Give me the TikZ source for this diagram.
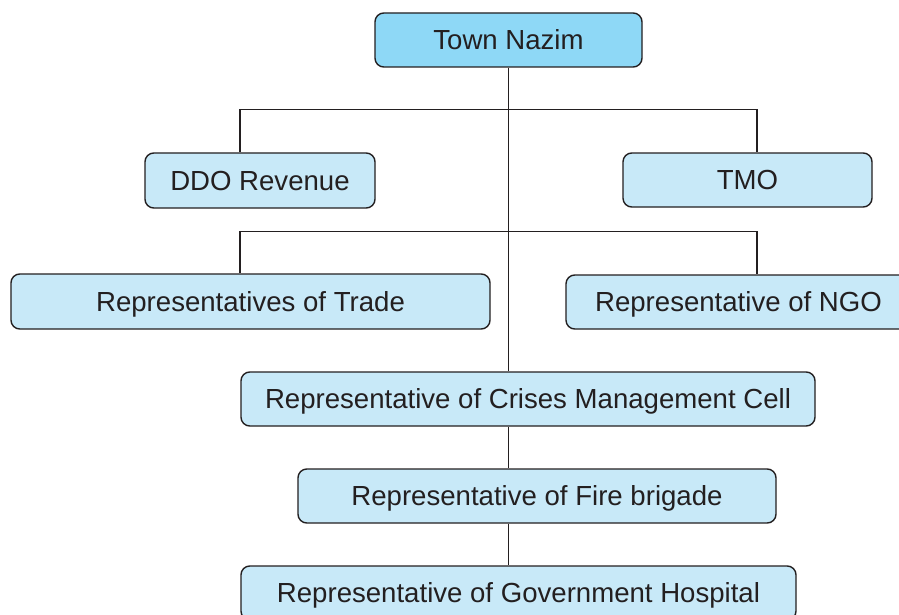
\documentclass[tikz,border=0pt]{standalone}
\usepackage{fontspec}
\setmainfont{Liberation Sans}
\definecolor{topblue}{HTML}{8ED8F6}
\definecolor{boxblue}{HTML}{C8E9F8}
\definecolor{inkgray}{HTML}{231F20}
\tikzset{   topbox/.style = {rectangle, rounded corners=5pt, draw = inkgray, line width=0.8pt, fill = topblue, text = inkgray, font=\fontsize{15.7}{19}\selectfont, inner sep=0pt, text height=11.3pt, text depth=0pt, minimum height=1.08cm},
            unitbox/.style = {topbox, fill = boxblue}}

\begin{document}
\begin{tikzpicture}
                        \useasboundingbox (0,0) rectangle (17.98,-12.3);
                        \begin{scope}[line width=0.8pt, draw=inkgray]
                        \node[topbox, minimum width=5.34cm] (nazim) at (10.17,-0.80) {Town Nazim};
                        \node[unitbox, minimum width=4.6cm, minimum height=1.1cm] (ddo) at (5.2,-3.61) {DDO Revenue};
                        \node[unitbox, minimum width=4.98cm] (tmo) at (14.95,-3.6) {TMO};
                        \node[unitbox, minimum width=9.58cm, minimum height=1.1cm] (trade) at (5.01,-6.03) {Representatives of Trade};
                        \node[unitbox, minimum width=6.9cm] (ngo) at (14.77,-6.04) {Representative of NGO};
                        \node[unitbox, minimum width=11.48cm] (crises) at (10.56,-7.98) {Representative of Crises Management Cell};
                        \node[unitbox, minimum width=9.56cm] (fire) at (10.74,-9.92) {Representative of Fire brigade};
                        \node[unitbox, minimum width=11.1cm] (hospital) at (10.37,-11.86) {Representative of Government Hospital};
                        \draw (nazim.south) -- (nazim.south |- crises.north);
                        \draw (nazim.south |- crises.south) -- (nazim.south |- fire.north);
                        \draw (nazim.south |- fire.south) -- (nazim.south |- hospital.north);
                        \draw ([xshift=-4mm]ddo.north) -- ++(0,0.86) -| ([xshift=1.9mm]tmo.north);
                        \draw ([xshift=-2.1mm]trade.north) -- ++(0,0.84) -| ([xshift=3.7mm]ngo.north);
                        \end{scope}
                      \end{tikzpicture}
\end{document}
